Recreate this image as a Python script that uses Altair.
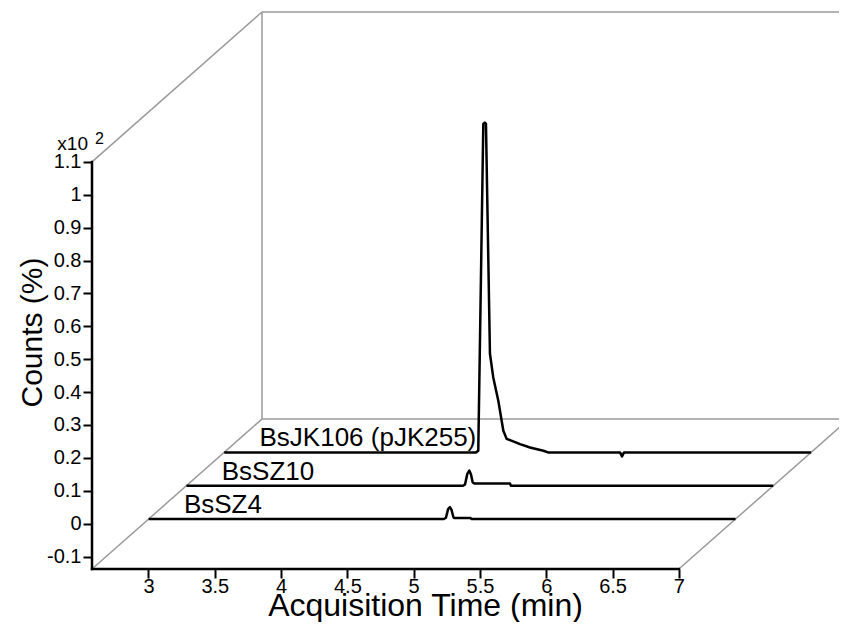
import altair as alt
import pandas as pd

# ---- data ----
series_names = ["BsSZ4", "BsSZ10", "BsJK106 (pJK255)"]
series_depth = [3 / 9, 5 / 9, 7 / 9]          # position of each trace in the depth of the box

sz4_time = [2.574, 4.800, 4.816, 4.832, 4.846, 4.858, 4.872, 4.879, 5.002, 5.008, 7.0]
sz4_value = [0.0, 0.0, 0.004, 0.030, 0.036, 0.028, 0.006, 0.003, 0.003, 0.0, 0.0]

sz10_time = [2.574, 4.660, 4.675, 4.692, 4.707, 4.720, 4.733, 4.745, 5.014, 5.021, 7.0]
sz10_value = [0.0, 0.0, 0.004, 0.036, 0.046, 0.034, 0.010, 0.007, 0.007, 0.0, 0.0]

jk_time = [2.574, 4.473, 4.490, 4.528, 4.539, 4.548, 4.578, 4.603, 4.641, 4.679, 4.704,
           4.744, 4.805, 4.880, 4.981, 5.016, 5.559, 5.574, 5.589, 7.0]
jk_value = [0.0, 0.0, 0.005, 0.999, 1.003, 0.999, 0.300, 0.228, 0.157, 0.066, 0.041,
            0.035, 0.025, 0.015, 0.005, 0.0, 0.0, -0.012, 0.0, 0.0]

x_ticks = [3, 3.5, 4, 4.5, 5, 5.5, 6, 6.5, 7]
y_ticks = [-0.1, 0, 0.1, 0.2, 0.3, 0.4, 0.5, 0.6, 0.7, 0.8, 0.9, 1, 1.1]

# ---- pseudo-3D frame (data units) ----
T0, T1 = 2.574, 7.0        # time range of the front axis
FLOOR, TOP = -0.138, 1.1   # value range of the front axis
DX, DY = 1.282, 0.456      # full-depth offset in time / value units
LABEL_T = 2.840            # where the series names start

FONT = "Liberation Sans"

rows = []
for name, d, ts, vs in zip(series_names, series_depth,
                            [sz4_time, sz10_time, jk_time],
                            [sz4_value, sz10_value, jk_value]):
    for i, (t, v) in enumerate(zip(ts, vs)):
        rows.append({"series": name, "depth": d, "t": t, "v": v, "i": i})
traces = pd.DataFrame(rows)

box = pd.DataFrame([
    {"t1": T0, "v1": TOP, "d1": 0, "t2": T0, "v2": TOP, "d2": 1},
    {"t1": T0, "v1": FLOOR, "d1": 1, "t2": T0, "v2": TOP, "d2": 1},
    {"t1": T0, "v1": TOP, "d1": 1, "t2": T1, "v2": TOP, "d2": 1},
    {"t1": T0, "v1": FLOOR, "d1": 1, "t2": T1, "v2": FLOOR, "d2": 1},
    {"t1": T1, "v1": FLOOR, "d1": 1, "t2": T1, "v2": TOP, "d2": 1},
    {"t1": T0, "v1": FLOOR, "d1": 0, "t2": T0, "v2": FLOOR, "d2": 1},
    {"t1": T1, "v1": FLOOR, "d1": 0, "t2": T1, "v2": FLOOR, "d2": 1},
])

axes_lines = pd.DataFrame([
    {"t1": T0, "v1": FLOOR, "t2": T0, "v2": TOP},
    {"t1": T0, "v1": FLOOR, "t2": T1, "v2": FLOOR},
])

labels = pd.DataFrame({"series": series_names, "depth": series_depth})
corner = pd.DataFrame({"t": [T0], "v": [TOP]})

xs = alt.Scale(domain=[T0, 8.2075], nice=False, zero=False)
ys = alt.Scale(domain=[FLOOR, 1.556], nice=False, zero=False)

x_axis = alt.Axis(values=x_ticks, domain=False, grid=False, tickColor="black", tickWidth=2,
                  tickSize=9, labelFont=FONT, labelFontSize=20, labelColor="black",
                  labelPadding=-2, labelExpr="'' + datum.value",
                  title="Acquisition Time (min)", titleFont=FONT, titleFontSize=32,
                  titleFontWeight="normal", titleColor="black", titleX=333, titleY=46,
                  titleBaseline="alphabetic", titleAlign="center")
y_axis = alt.Axis(values=y_ticks, domain=False, grid=False, tickColor="black", tickWidth=2,
                  tickSize=9, labelFont=FONT, labelFontSize=20, labelColor="black",
                  labelPadding=2, labelExpr="'' + round(datum.value*10)/10",
                  title="Counts (%)", titleFont=FONT, titleFontSize=30,
                  titleFontWeight="normal", titleColor="black", titleX=-60, titleY=320,
                  titleAngle=270, titleBaseline="middle", titleAlign="center")


def X(field):
    return alt.X(field, type="quantitative", scale=xs, axis=x_axis)


def Y(field):
    return alt.Y(field, type="quantitative", scale=ys, axis=y_axis)


box_layer = alt.Chart(box).transform_calculate(
    x1=f"datum.t1 + datum.d1*{DX}", y1=f"datum.v1 + datum.d1*{DY}",
    x2=f"datum.t2 + datum.d2*{DX}", y2=f"datum.v2 + datum.d2*{DY}",
).mark_rule(color="#9a9a9a", strokeWidth=1.5).encode(
    x=X("x1"), y=Y("y1"), x2="x2:Q", y2="y2:Q")

axis_layer = alt.Chart(axes_lines).mark_rule(color="black", strokeWidth=2.5,
                                             strokeCap="square").encode(
    x=X("t1"), y=Y("v1"), x2="t2:Q", y2="v2:Q")

tr = alt.Chart(traces).transform_calculate(
    sx=f"datum.t + datum.depth*{DX}",
    sy=f"{FLOOR} + datum.depth*{DY} + datum.v",
    sb=f"{FLOOR} + datum.depth*{DY}",
)
area_layer = tr.mark_area(color="white", opacity=1).encode(
    x=X("sx"), y=Y("sy"), y2="sb:Q", detail="series:N", order="i:Q")
line_layer = tr.mark_line(color="black", strokeWidth=2.5, strokeJoin="round").encode(
    x=X("sx"), y=Y("sy"), detail="series:N", order="i:Q")

label_layer = alt.Chart(labels).transform_calculate(
    lx=f"{LABEL_T} + datum.depth*{DX}", ly=f"{FLOOR} + datum.depth*{DY}",
).mark_text(align="left", baseline="alphabetic", dy=-6, font=FONT, fontSize=26,
            color="black").encode(x=X("lx"), y=Y("ly"), text="series:N")

x10_layer = alt.Chart(corner).mark_text(align="right", baseline="alphabetic", dx=-4, dy=-12,
                                         font=FONT, fontSize=19, color="black").encode(
    x=X("t"), y=Y("v"), text=alt.value("x10"))
sup_layer = alt.Chart(corner).mark_text(align="left", baseline="alphabetic", dx=3, dy=-18,
                                         font=FONT, fontSize=16, color="black").encode(
    x=X("t"), y=Y("v"), text=alt.value("2"))

chart = alt.layer(box_layer, area_layer, line_layer, axis_layer, label_layer,
                  x10_layer, sup_layer).properties(
    width=747, height=557,
    autosize=alt.AutoSizeParams(type="none"),
    padding={"left": 84, "top": 4, "right": 0, "bottom": 53},
).configure_view(stroke=None)

chart.save("out.html", embed_options={"renderer": "svg", "actions": False})
